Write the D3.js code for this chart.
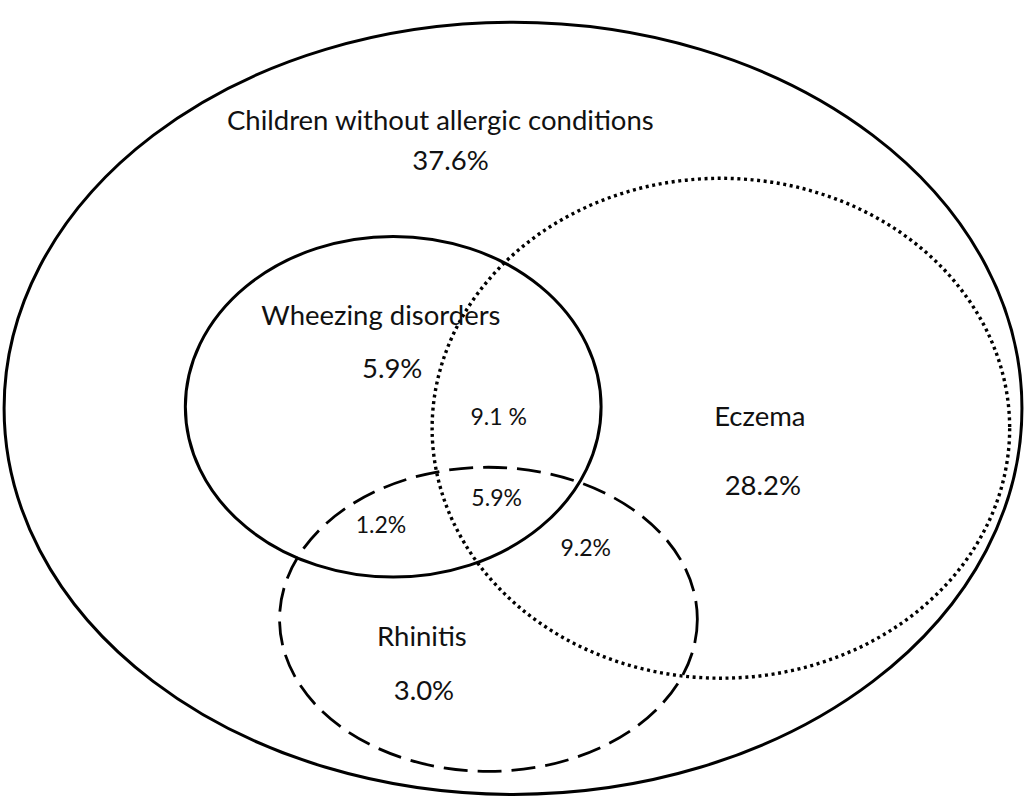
<!DOCTYPE html>
<html>
<head>
<meta charset="utf-8">
<script src="https://cdn.jsdelivr.net/npm/d3@7.9.0/dist/d3.min.js"></script>
<style>
  html, body { margin: 0; padding: 0; background: #fff; }
  svg { display: block; }
</style>
</head>
<body>
<div id="chart"></div>
<script>
// set names and their exclusive shares
const setNames = ["Children without allergic conditions", "Wheezing disorders", "Eczema", "Rhinitis"];
const setValues = ["37.6%", "5.9%", "28.2%", "3.0%"];

// overlap regions
const overlapNames = ["Wheezing ∩ Eczema", "Wheezing ∩ Eczema ∩ Rhinitis", "Wheezing ∩ Rhinitis", "Eczema ∩ Rhinitis"];
const overlapValues = ["9.1 %", "5.9%", "1.2%", "9.2%"];

// ellipse layout in a 0-100 drawing space
const ellipseCx = [50.1, 38.4, 70.4, 47.7];
const ellipseCy = [51.3, 51.1, 53.8, 77.8];
const ellipseRx = [49.7, 20.3, 28.2, 20.4];
const ellipseRy = [48.5, 21.4, 31.4, 19.1];
const ellipseStyle = ["solid", "solid", "dotted", "dashed"];

// label anchors in the same space
const setLabelX = [43.0, 37.2, 74.2, 41.2];
const setLabelY = [16.3, 40.8, 53.5, 81.2];
const setValueX = [44.0, 38.3, 74.5, 41.4];
const setValueY = [21.4, 47.5, 62.2, 88.0];
const overlapX = [48.7, 48.5, 37.2, 57.2];
const overlapY = [53.4, 63.6, 66.9, 69.8];

const width = 1024;
const height = 796;

const x = d3.scaleLinear().domain([0, 100]).range([0, width]);
const y = d3.scaleLinear().domain([0, 100]).range([0, height]);

const svg = d3.select("#chart")
  .append("svg")
  .attr("width", width)
  .attr("height", height)
  .style("font-family", "Lato, 'Open Sans', sans-serif");

const dash = { solid: null, dotted: "3,3.6", dashed: "24,10" };
const strokeW = { solid: 3, dotted: 3.4, dashed: 2.8 };

const ellipses = setNames.map((name, i) => ({
  name,
  cx: ellipseCx[i], cy: ellipseCy[i], rx: ellipseRx[i], ry: ellipseRy[i],
  style: ellipseStyle[i],
}));

svg.append("g")
  .selectAll("ellipse")
  .data(ellipses)
  .join("ellipse")
  .attr("cx", d => x(d.cx))
  .attr("cy", d => y(d.cy))
  .attr("rx", d => x(d.rx))
  .attr("ry", d => y(d.ry))
  .attr("fill", "none")
  .attr("stroke", "#000")
  .attr("stroke-width", d => strokeW[d.style])
  .attr("stroke-dasharray", d => dash[d.style]);

const labels = svg.append("g").attr("fill", "#111").attr("text-anchor", "middle");

labels.selectAll("text.set-name")
  .data(setNames)
  .join("text")
  .attr("class", "set-name")
  .attr("x", (d, i) => x(setLabelX[i]))
  .attr("y", (d, i) => y(setLabelY[i]))
  .attr("font-size", 27.5)
  .text(d => d);

labels.selectAll("text.set-value")
  .data(setValues)
  .join("text")
  .attr("class", "set-value")
  .attr("x", (d, i) => x(setValueX[i]))
  .attr("y", (d, i) => y(setValueY[i]))
  .attr("font-size", 27.5)
  .text(d => d);

labels.selectAll("text.overlap")
  .data(overlapValues)
  .join("text")
  .attr("class", "overlap")
  .attr("x", (d, i) => x(overlapX[i]))
  .attr("y", (d, i) => y(overlapY[i]))
  .attr("font-size", 23)
  .text(d => d);
</script>
</body>
</html>
